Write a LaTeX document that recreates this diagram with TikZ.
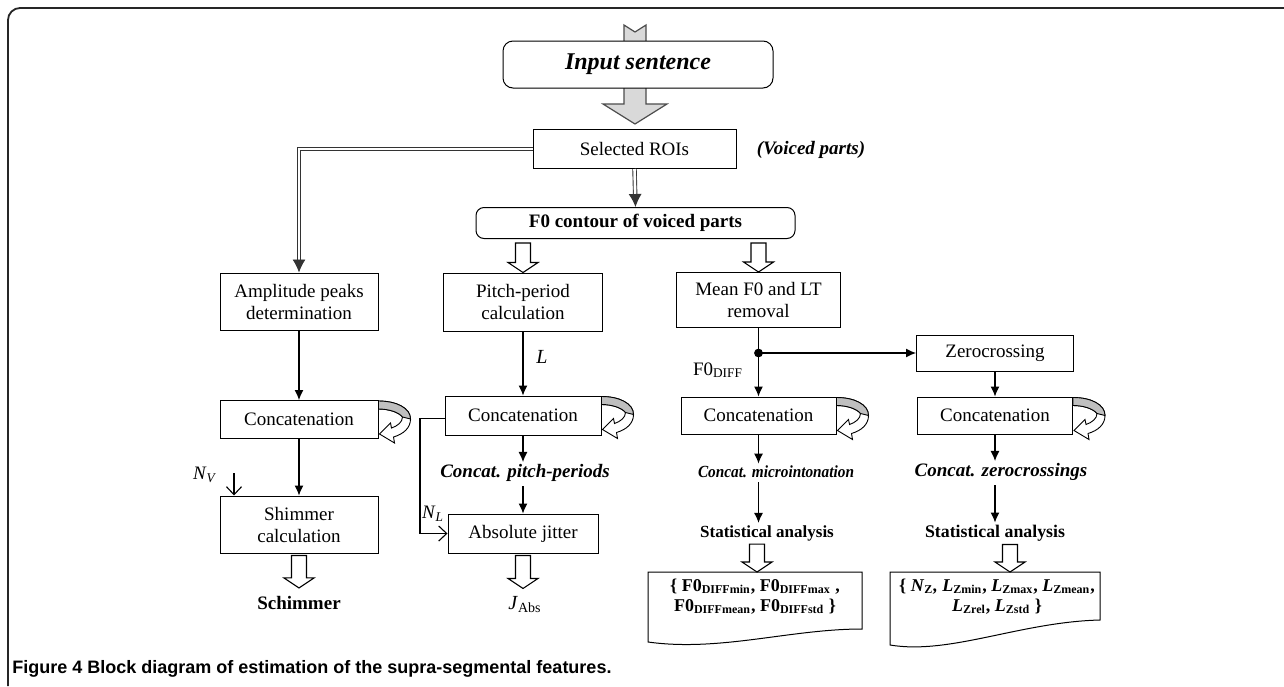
\documentclass[tikz,border=0pt]{standalone}
\usepackage{fontspec}
\usepackage{graphicx}
\setmainfont{Liberation Serif}
\newfontfamily\capfont{Liberation Sans}
\usetikzlibrary{arrows.meta,calc}
\begin{document}
\begin{tikzpicture}[x=0.5pt,y=-0.5pt,
  box/.style={draw, line width=0.5pt, fill=white, align=center, inner sep=1pt, font=\fontsize{9.5}{11}\selectfont},
  lbl/.style={inner sep=0pt, align=center},
  arr/.style={line width=0.55pt, -{Latex[length=5pt,width=4.5pt]}},
  dbl/.style={draw=black!80, line width=0.45pt, double=white, double distance=1.3pt, -{Latex[length=6.5pt,width=6.5pt]}},
  barb/.style={line width=0.55pt, -{Straight Barb[length=4pt,width=7.5pt,line width=0.55pt]}},
  hollow/.style={draw, line width=0.55pt, fill=white, to path={let \p1=(\tikztostart), \p2=(\tikztotarget) in (\x1-3.75pt,\y1) -- (\x1+3.75pt,\y1) -- (\x1+3.75pt,\y2+5pt) -- (\x1+7.5pt,\y2+5pt) -- (\x1,\y2) -- (\x1-7.5pt,\y2+5pt) -- (\x1-3.75pt,\y2+5pt) -- cycle}},
  bigarrow/.style={draw=black!70, line width=0.6pt, fill=black!15, to path={let \p1=(\tikztostart), \p2=(\tikztotarget) in (\x1-5.5pt,\y1) -- (\x1,\y1-3.5pt) -- (\x1+5.5pt,\y1) -- (\x1+5.5pt,\y2+10pt) -- (\x1+16pt,\y2+10pt) -- (\x1,\y2) -- (\x1-16pt,\y2+10pt) -- (\x1-5.5pt,\y2+10pt) -- cycle}},
  doc/.style={draw, line width=0.5pt, fill=white},
  pics/loopar/.style={code={
    \draw[line width=0.45pt, fill=white] (0,1) .. controls (18,1) and (32,8) .. (32,19) .. controls (32,28) and (25,34) .. (15,37) -- (16,43) -- (1,34) -- (12,23) -- (13,28) .. controls (19,26) and (24,22) .. (24,17) .. controls (20,12) and (10,9) .. (0,9) -- cycle;
    \draw[line width=0.45pt, fill=black!25] (0,1) .. controls (18,1) and (32,8) .. (32,19) -- (24,17) .. controls (20,12) and (10,9) .. (0,9) -- cycle;
  }}
]
\useasboundingbox (0,0) rectangle (1284,686);
% frame
\draw[line width=0.9pt, black!85, rounded corners=6pt] (8,686) -- (8,8) -- (1284,8);

% top part
\node[box, minimum width=101.5pt, minimum height=19.5pt] (roi) at (634.5,149) {Selected ROIs};
\coordinate (src) at (635,25);
\draw[bigarrow] (src) to ([yshift=2.5pt]roi.north);
\node[box, rounded corners=5pt, minimum width=135pt, minimum height=23.5pt, font=\fontsize{12}{14}\selectfont\bfseries\itshape] (inp) at (638,64.5) {Input sentence};
\node[lbl, font=\fontsize{9.5}{11}\selectfont\bfseries\itshape] (voiced) at (811,150) {(Voiced parts)};
\node[box, rounded corners=4pt, minimum width=159.5pt, minimum height=15.5pt, font=\fontsize{9.5}{11}\selectfont\bfseries] (f0) at (635.5,223) {F0 contour of voiced parts};
\draw[dbl] (roi.south) -- (f0.north);

% first row of boxes
\node[box, minimum width=79pt, minimum height=28.5pt] (amp) at (299,301.5) {Amplitude peaks\\determination};
\node[box, minimum width=79.5pt, minimum height=29pt] (pitch) at (523,302) {Pitch-period\\calculation};
\node[box, minimum width=82pt, minimum height=27.5pt] (mean) at (758.5,300) {Mean F0 and LT\\removal};
\draw[dbl] (roi.west) -| (amp.north);
\draw[hollow] ([yshift=-2pt]f0.south -| pitch.north) to (pitch.north);
\draw[hollow] ([yshift=-2pt]f0.south -| mean.north) to (mean.north);

% zerocrossing branch
\coordinate (split) at (758.5,353);
\node[box, minimum width=78.5pt, minimum height=18pt] (zero) at (995,353) {Zerocrossing};

% concatenation row
\node[box, minimum width=79pt, minimum height=19pt] (cL) at (299,419.5) {Concatenation};
\node[box, minimum width=78pt, minimum height=19.5pt] (cP) at (523,415.5) {Concatenation};
\node[box, minimum width=77.5pt, minimum height=18.5pt] (cM) at (758.5,415.5) {Concatenation};
\node[box, minimum width=77.5pt, minimum height=18.5pt] (cR) at (995,415.5) {Concatenation};
\pic at (cL.north east) {loopar};
\pic at (cP.north east) {loopar};
\pic at (cM.north east) {loopar};
\pic at (cR.north east) {loopar};

\draw[arr] (amp.south) -- (cL.north);
\draw[arr] (pitch.south) -- (cP.north);
\draw[line width=0.55pt] (mean.south) -- (split);
\draw[arr] (split) -- (cM.north);
\draw[arr] (split) -- (zero.west);
\fill (split) circle (2.2pt);
\draw[arr] (zero.south) -- (cR.north);
\node[lbl, font=\fontsize{10}{12}\selectfont\itshape] (Llbl) at (542,357) {L};
\node[lbl, font=\fontsize{9.5}{11}\selectfont] (fdiff) at (718,370) {F0\textsubscript{DIFF}};

% left column
\node[box, minimum width=79pt, minimum height=28.5pt] (shim) at (299,524.5) {Shimmer\\calculation};
\draw[arr] (cL.south) -- (shim.north);
\coordinate (nvs) at (234,473);
\draw[barb] (nvs) -- (nvs |- shim.north);
\node[lbl, font=\fontsize{9.5}{11}\selectfont] (nv) at (205,475) {\textit{N}\textsubscript{\textit{V}}};
\node[lbl, font=\fontsize{9.5}{11}\selectfont\bfseries] (schim) at (299,603) {Schimmer};
\draw[hollow] ([yshift=-1pt]shim.south) to ([yshift=4pt]schim.north);

% pitch column
\node[lbl, font=\fontsize{9.5}{11}\selectfont\bfseries\itshape] (cpp) at (525,473) {Concat. pitch-periods};
\node[box, minimum width=75pt, minimum height=19.5pt] (jit) at (523,533.5) {Absolute jitter};
\draw[arr, shorten >=1pt] (cP.south) -- (cP.south |- cpp.north);
\draw[arr] ([yshift=-2pt]cpp.south -| jit.north) -- (jit.north);
\coordinate (nlc) at (420,419);
\draw[barb] ([yshift=-1.5pt]cP.west) -- ([yshift=-1.5pt]cP.west -| nlc) |- (jit.west);
\node[lbl, font=\fontsize{9.5}{11}\selectfont] (nl) at (433,514) {\textit{N}\textsubscript{\textit{L}}};
\node[lbl, font=\fontsize{10}{12}\selectfont] (jabs) at (525,605) {\textit{J}\textsubscript{Abs}};
\draw[hollow] ([yshift=-1pt]jit.south) to ([yshift=4pt]jabs.north);

% micro column
\node[lbl, font=\fontsize{8.5}{10}\selectfont\bfseries\itshape] (cmi) at (776,472) {\scalebox{0.9}[1]{Concat. microintonation}};
\node[lbl, font=\fontsize{8.5}{10}\selectfont\bfseries] (sa1) at (767,533) {Statistical analysis};
\draw[arr, shorten >=1pt] (cM.south) -- (cM.south |- cmi.north);
\draw[arr] ([yshift=-2pt]cmi.south -| cM.south) -- ([yshift=1pt]sa1.north -| cM.south);
\draw[doc] (648,642) -- (648,572) -- (862,572) -- (862,629) .. controls (790,629) and (720,652) .. cycle;
\coordinate (docMtop) at (757,572);
\draw[hollow] ([yshift=-1.5pt]sa1.south -| docMtop) to (docMtop);
\node[lbl, font=\fontsize{9}{10}\selectfont\bfseries] (docM) at (755,597) {\{ F0\textsubscript{DIFFmin}, F0\textsubscript{DIFFmax} ,\\F0\textsubscript{DIFFmean}, F0\textsubscript{DIFFstd} \}};

% zero column
\node[lbl, font=\fontsize{9.5}{11}\selectfont\bfseries\itshape] (czc) at (1001,472) {Concat. zerocrossings};
\node[lbl, font=\fontsize{8.9}{10}\selectfont\bfseries] (sa2) at (995,533) {Statistical analysis};
\draw[arr, shorten >=1pt] (cR.south) -- (cR.south |- czc.north);
\draw[arr] ([yshift=-2pt]czc.south -| cR.south) -- ([yshift=1pt]sa2.north -| cR.south);
\draw[doc] (890,645) -- (890,572) -- (1100,572) -- (1100,620) .. controls (1020,622) and (950,655) .. cycle;
\coordinate (docRtop) at (1010,572);
\draw[hollow] ([yshift=-1.5pt]sa2.south -| docRtop) to (docRtop);
\node[lbl, font=\fontsize{9}{10}\selectfont\bfseries] (docR) at (997,597) {\{ \textit{N}\textsubscript{Z}\textit{,} \textit{L}\textsubscript{Zmin}, \textit{L}\textsubscript{Zmax}, \textit{L}\textsubscript{Zmean},\\\textit{L}\textsubscript{Zrel}, \textit{L}\textsubscript{Zstd} \}};

% caption
\node[anchor=base west, inner sep=0pt, font=\capfont\bfseries\fontsize{9}{11}\selectfont] (cap) at (12,673) {Figure 4 Block diagram of estimation of the supra-segmental features.};
\end{tikzpicture}
\end{document}
